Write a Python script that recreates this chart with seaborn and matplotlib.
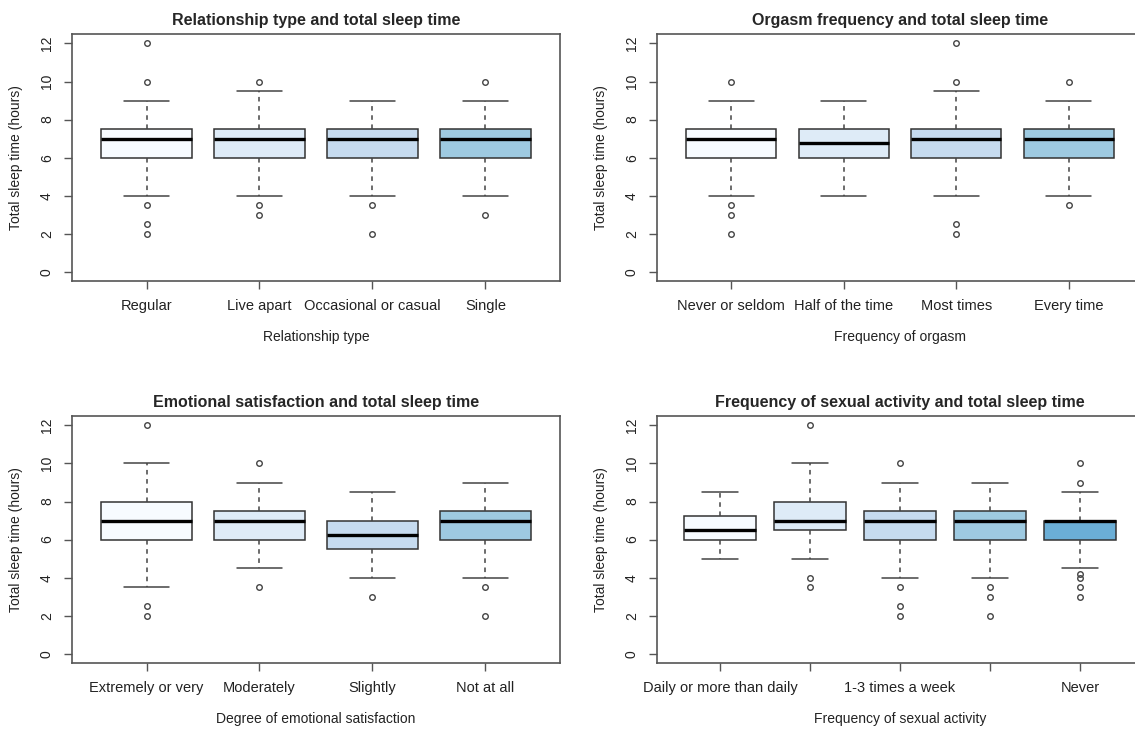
import matplotlib
matplotlib.use("Agg")
import matplotlib.pyplot as plt
import seaborn as sns

# Categorías de cada panel
rel_types = ["Regular", "Live apart", "Occasional or casual", "Single"]
orgasm_freq = ["Never or seldom", "Half of the time", "Most times", "Every time"]
emotional = ["Extremely or very", "Moderately", "Slightly", "Not at all"]
sex_freq = ["Daily or more than daily", "4-6 times a week", "1-3 times a week",
            "Less than once a week", "Never"]

# Resúmenes: [bigote inf, Q1, mediana, Q3, bigote sup]
rel_stats = [[4, 6, 7, 7.5, 9], [4, 6, 7, 7.5, 9.5], [4, 6, 7, 7.5, 9], [4, 6, 7, 7.5, 9]]
rel_out = [[12, 10, 3.5, 2.5, 2], [10, 3.5, 3], [3.5, 2], [10, 3]]

orgasm_stats = [[4, 6, 7, 7.5, 9], [4, 6, 6.75, 7.5, 9], [4, 6, 7, 7.5, 9.5], [4, 6, 7, 7.5, 9]]
orgasm_out = [[10, 3.5, 3, 2], [], [12, 10, 2.5, 2], [10, 3.5]]

emo_stats = [[3.5, 6, 7, 8, 10], [4.5, 6, 7, 7.5, 9], [4, 5.5, 6.25, 7, 8.5], [4, 6, 7, 7.5, 9]]
emo_out = [[12, 2.5, 2], [10, 3.5], [3], [3.5, 2]]

sex_stats = [[5, 6, 6.5, 7.25, 8.5], [5, 6.5, 7, 8, 10], [4, 6, 7, 7.5, 9],
             [4, 6, 7, 7.5, 9], [4.5, 6, 7, 7, 8.5]]
sex_out = [[], [12, 4, 3.5], [10, 3.5, 2.5, 2], [3.5, 3, 2], [10, 9, 4.2, 4, 3.5, 3]]

# etiquetas visibles en el eje x (R oculta las que se solapan)
sex_shown = ["Daily or more than daily", "", "1-3 times a week", "", "Never"]

blues = ["#F7FBFF", "#DEEBF7", "#C6DBEF", "#9ECAE1", "#6BAED6"]

sns.set_style("white")
plt.rcParams['font.family'] = ['Liberation Sans', 'DejaVu Sans']


def caja(ax, cats, stats, outs, titulo, xnombre, etiquetas=None):
    bxp = []
    for c, s, o in zip(cats, stats, outs):
        bxp.append({"label": c, "whislo": s[0], "q1": s[1], "med": s[2],
                    "q3": s[3], "whishi": s[4], "fliers": o})
    n = len(cats)
    pos = list(range(1, n + 1))
    res = ax.bxp(bxp, positions=pos, widths=0.8, capwidths=0.4, patch_artist=True,
                 boxprops=dict(edgecolor="#333333", linewidth=1.1),
                 medianprops=dict(color="black", linewidth=2.4),
                 whiskerprops=dict(color="#444444", linestyle=(0, (3, 3)), linewidth=1.1),
                 capprops=dict(color="#444444", linewidth=1.1),
                 flierprops=dict(marker="o", markerfacecolor="none", markeredgecolor="#444444",
                                 markersize=4, markeredgewidth=1.0))
    for patch, col in zip(res["boxes"], blues):
        patch.set_facecolor(col)
    ext = 0.04 * n
    ax.set_xlim(0.5 - ext, n + 0.5 + ext)
    ax.set_ylim(-0.48, 12.48)
    ax.set_yticks([0, 2, 4, 6, 8, 10, 12])
    ax.set_yticklabels(["0", "2", "4", "6", "8", "10", "12"], rotation=90, va="center")
    ax.set_xticks(pos)
    ax.set_xticklabels(etiquetas if etiquetas else cats)
    ax.tick_params(axis="both", direction="out", length=6, width=1, color="#555555",
                   labelsize=10, labelcolor="#222222", pad=7, left=True, bottom=True)
    ax.tick_params(axis="x", labelsize=10.5)
    for sp in ax.spines.values():
        sp.set_color("#555555")
        sp.set_linewidth(1.2)
    ax.set_title(titulo, fontsize=11.5, fontweight="bold", pad=7)
    ax.set_xlabel(xnombre, fontsize=10, color="#222222", labelpad=12)
    ax.set_ylabel("Total sleep time (hours)", fontsize=10, color="#222222", labelpad=12)


fig = plt.figure(figsize=(11.35, 7.3), dpi=100)
ax1 = fig.add_axes([0.0634, 0.615, 0.430, 0.338])
ax2 = fig.add_axes([0.5789, 0.615, 0.428, 0.338])
ax3 = fig.add_axes([0.0634, 0.0918, 0.430, 0.338])
ax4 = fig.add_axes([0.5789, 0.0918, 0.428, 0.338])

caja(ax1, rel_types, rel_stats, rel_out, "Relationship type and total sleep time", "Relationship type")
caja(ax2, orgasm_freq, orgasm_stats, orgasm_out, "Orgasm frequency and total sleep time", "Frequency of orgasm")
caja(ax3, emotional, emo_stats, emo_out, "Emotional satisfaction and total sleep time",
     "Degree of emotional satisfaction")
caja(ax4, sex_freq, sex_stats, sex_out, "Frequency of sexual activity and total sleep time",
     "Frequency of sexual activity", etiquetas=sex_shown)

plt.savefig("out.png", dpi=100)
plt.close()
